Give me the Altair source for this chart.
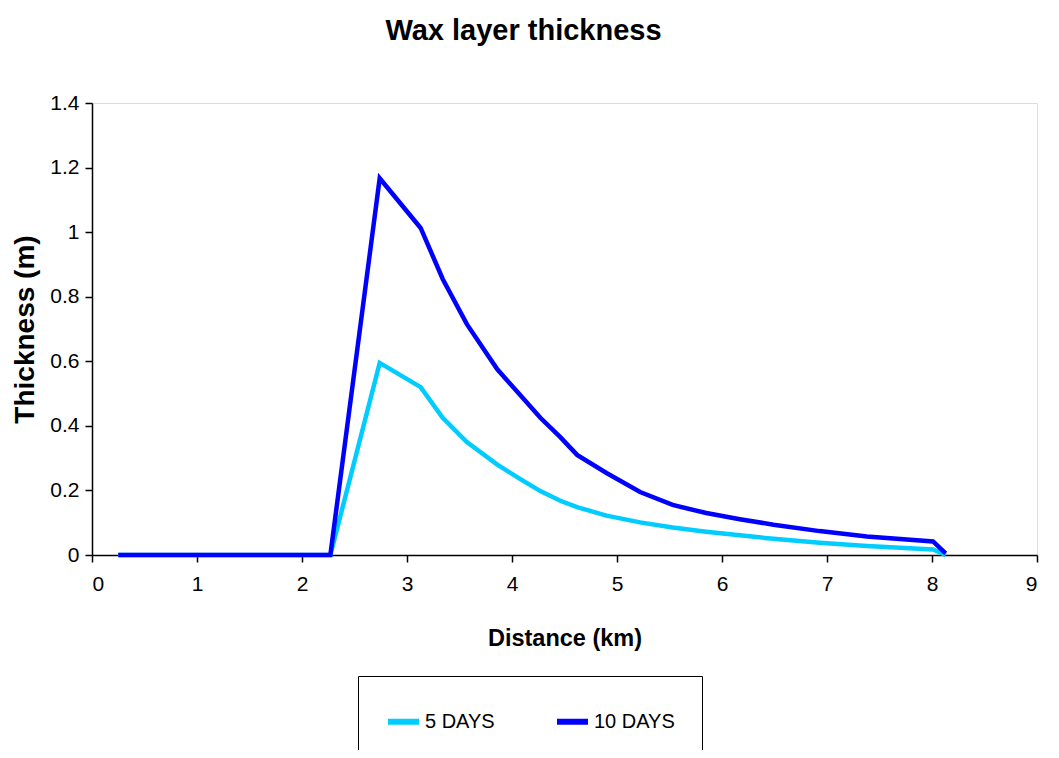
import altair as alt
import pandas as pd

# Distances (km) at which the profile is sampled
distance_km = [0.25, 2.27, 2.74, 3.13, 3.34, 3.57, 3.86, 4.08, 4.27, 4.46, 4.62, 4.90,
               5.22, 5.53, 5.85, 6.17, 6.49, 6.93, 7.38, 8.01, 8.13]
# Wax layer thickness (m)
thick_5_days = [0.0, 0.0, 0.595, 0.52, 0.425, 0.35, 0.28, 0.235, 0.198, 0.168, 0.148, 0.122,
                0.101, 0.085, 0.072, 0.061, 0.05, 0.038, 0.028, 0.017, 0.0]
thick_10_days = [0.0, 0.0, 1.167, 1.013, 0.855, 0.715, 0.575, 0.495, 0.425, 0.365, 0.31, 0.254,
                 0.195, 0.155, 0.13, 0.111, 0.094, 0.074, 0.057, 0.042, 0.005]
series_names = ["5 DAYS", "10 DAYS"]
series_colors = ["#00CCFF", "#0000FF"]
x_ticks = [0, 1, 2, 3, 4, 5, 6, 7, 8, 9]
y_ticks = [0, 0.2, 0.4, 0.6, 0.8, 1.0, 1.2, 1.4]

rows = []
for i, d in enumerate(distance_km):
    rows.append({"Distance": d, "Thickness": thick_5_days[i], "Series": series_names[0], "order": i})
    rows.append({"Distance": d, "Thickness": thick_10_days[i], "Series": series_names[1], "order": i})
df = pd.DataFrame(rows)

FONT = "'Liberation Sans', Arial, sans-serif"

chart = alt.Chart(df).mark_line(strokeWidth=4.5, strokeJoin="miter").encode(
    x=alt.X("Distance:Q",
            scale=alt.Scale(domain=[0, 9], nice=False, zero=False),
            axis=alt.Axis(values=x_ticks, format="d", title="Distance (km)",
                          grid=False, domainColor="#000000", domainWidth=1.5,
                          tickColor="#000000", tickSize=7, tickWidth=1.5,
                          labelFont=FONT, labelFontSize=21, labelColor="#000000",
                          labelPadding=11, titleFont=FONT, titleFontSize=23.5,
                          titleFontWeight="bold", titleColor="#000000", titlePadding=32)),
    y=alt.Y("Thickness:Q",
            scale=alt.Scale(domain=[0, 1.4], nice=False),
            axis=alt.Axis(values=y_ticks, format="~g", title="Thickness (m)",
                          grid=False, domainColor="#000000", domainWidth=1.5,
                          tickColor="#000000", tickSize=7, tickWidth=1.5,
                          labelFont=FONT, labelFontSize=21, labelColor="#000000",
                          labelPadding=6, titleFont=FONT, titleFontSize=28,
                          titleFontWeight="bold", titleColor="#000000", titlePadding=10)),
    color=alt.Color("Series:N",
                    scale=alt.Scale(domain=series_names, range=series_colors),
                    sort=series_names,
                    legend=alt.Legend(title=None, orient="none", direction="horizontal",
                                      legendX=266, legendY=573,
                                      symbolType="stroke", symbolStrokeWidth=6, symbolSize=961,
                                      labelFont=FONT, labelFontSize=20, labelColor="#000000",
                                      labelOffset=3, columnPadding=50, padding=27,
                                      strokeColor="#000000", fillColor="#FFFFFF")),
    detail="Series:N",
    order="order:Q",
).properties(
    width=945,
    height=452,
    title=alt.TitleParams("Wax layer thickness", font=FONT, fontSize=29, fontWeight="bold",
                          color="#000000", anchor="middle", dx=-41, offset=46),
    autosize=alt.AutoSizeParams(type="none"),
    padding={"left": 84, "top": 95, "right": 14, "bottom": 195},
).configure_view(
    stroke="#A0A0A0", strokeWidth=2
).configure(background="#FFFFFF")

chart.save("out.html", embed_options={"renderer": "svg", "actions": False})
